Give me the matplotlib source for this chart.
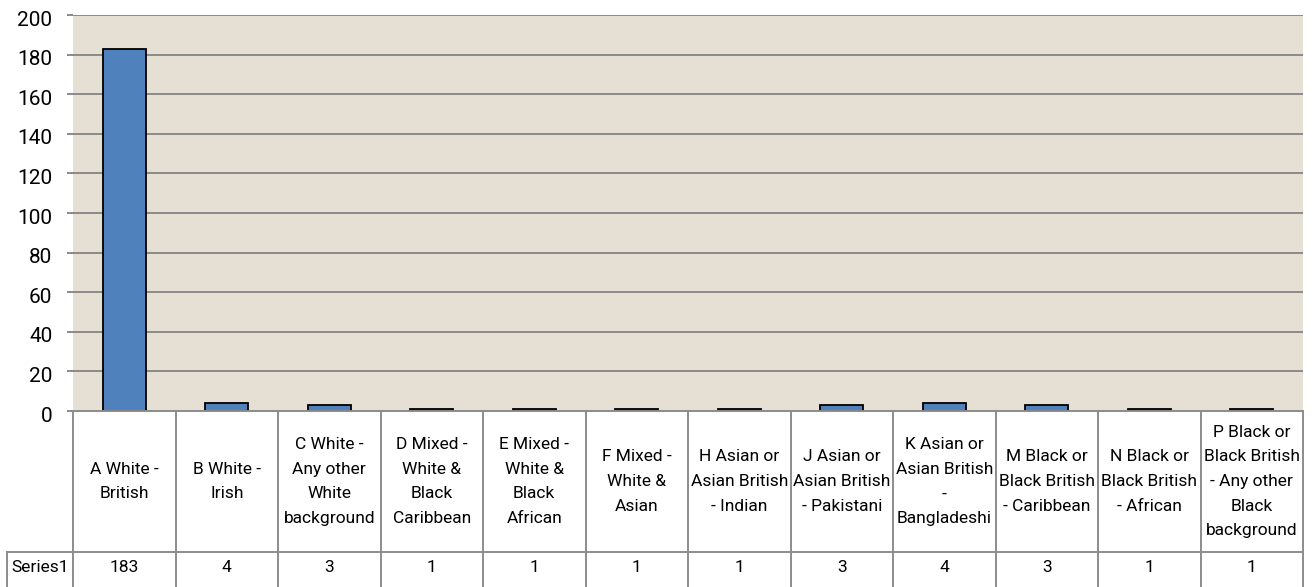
import matplotlib
matplotlib.use("Agg")
import matplotlib.pyplot as plt
from matplotlib.transforms import ScaledTranslation

# Ethnic group categories (wrapped as they appear in the table cells)
categories = [
    "A White -\nBritish",
    "B White -\nIrish",
    "C White -\nAny other\nWhite\nbackground",
    "D Mixed -\nWhite &\nBlack\nCaribbean",
    "E Mixed -\nWhite &\nBlack\nAfrican",
    "F Mixed -\nWhite &\nAsian",
    "H Asian or\nAsian British\n- Indian",
    "J Asian or\nAsian British\n- Pakistani",
    "K Asian or\nAsian British\n-\nBangladeshi",
    "M Black or\nBlack British\n- Caribbean",
    "N Black or\nBlack British\n- African",
    "P Black or\nBlack British\n- Any other\nBlack\nbackground",
]
series_name = "Series1"
series_values = [183, 4, 3, 1, 1, 1, 1, 3, 4, 3, 1, 1]
y_ticks = [0, 20, 40, 60, 80, 100, 120, 140, 160, 180, 200]

W, H = 1314, 587
DPI = 100
FONT = "Roboto"
GRID = "#8a8a8a"
TABLE_LINE = "#8c8c8c"
PLOT_BG = "#e6dfd4"
BAR = "#4f81bd"
TABLE_FS = 12.5

fig = plt.figure(figsize=(W / DPI, H / DPI), dpi=DPI)
fig.patch.set_facecolor("white")

# pixel-space layout helpers
left_px, right_px = 73, 1303
plot_top_px, plot_bot_px = 15, 411
table_split_px = 552
label_left_px = 7


def fx(px):
    return px / W


def fy(py):
    return 1 - py / H


ax = fig.add_axes([fx(left_px), fy(plot_bot_px), fx(right_px - left_px),
                   (plot_bot_px - plot_top_px) / H])
ax.set_facecolor(PLOT_BG)
n = len(categories)
x = list(range(n))
ax.bar(x, series_values, width=0.42, color=BAR, edgecolor="black",
       linewidth=1.3, zorder=3)
ax.set_xlim(-0.5, n - 0.5)
ax.set_ylim(0, 200)
ax.set_yticks(y_ticks)
ax.set_yticklabels([str(v) for v in y_ticks], fontfamily=FONT, fontsize=15)
ax.tick_params(axis="y", length=4.3, width=1.4, color=GRID, pad=10.5)
shift = ScaledTranslation(0, -3 / DPI, fig.dpi_scale_trans)
for lab in ax.get_yticklabels():
    lab.set_transform(lab.get_transform() + shift)
ax.set_xticks([])
ax.grid(axis="y", color=GRID, linewidth=1.4, zorder=1)
for s in ax.spines.values():
    s.set_visible(False)

# data table beneath the chart
tax = fig.add_axes([fx(left_px), 0, fx(right_px - left_px), fy(plot_bot_px)])
tax.set_xlim(-0.5, n - 0.5)
tax.set_ylim(H, plot_bot_px)
tax.axis("off")
unit = (right_px - left_px) / n
row_left = -0.5 - (left_px - label_left_px) / unit

lkw = dict(color=TABLE_LINE, linewidth=1.4, clip_on=False)
tax.plot([-0.5, n - 0.5], [plot_bot_px, plot_bot_px], **lkw)
tax.plot([row_left, n - 0.5], [table_split_px, table_split_px], **lkw)
for b in range(n + 1):
    tax.plot([b - 0.5, b - 0.5], [plot_bot_px, H + 5], **lkw)
tax.plot([row_left, row_left], [table_split_px, H + 5], **lkw)

cat_mid = (plot_bot_px + table_split_px) / 2
val_mid = 568
for i, (c, v) in enumerate(zip(categories, series_values)):
    tax.text(i, cat_mid, c, ha="center", va="center", fontfamily=FONT,
             fontsize=TABLE_FS, linespacing=1.8, clip_on=False)
    tax.text(i, val_mid, str(v), ha="center", va="center", fontfamily=FONT,
             fontsize=TABLE_FS, clip_on=False)
tax.text((row_left - 0.5) / 2, val_mid, series_name, ha="center", va="center",
         fontfamily=FONT, fontsize=TABLE_FS, clip_on=False)

fig.savefig("out.png", dpi=DPI)
